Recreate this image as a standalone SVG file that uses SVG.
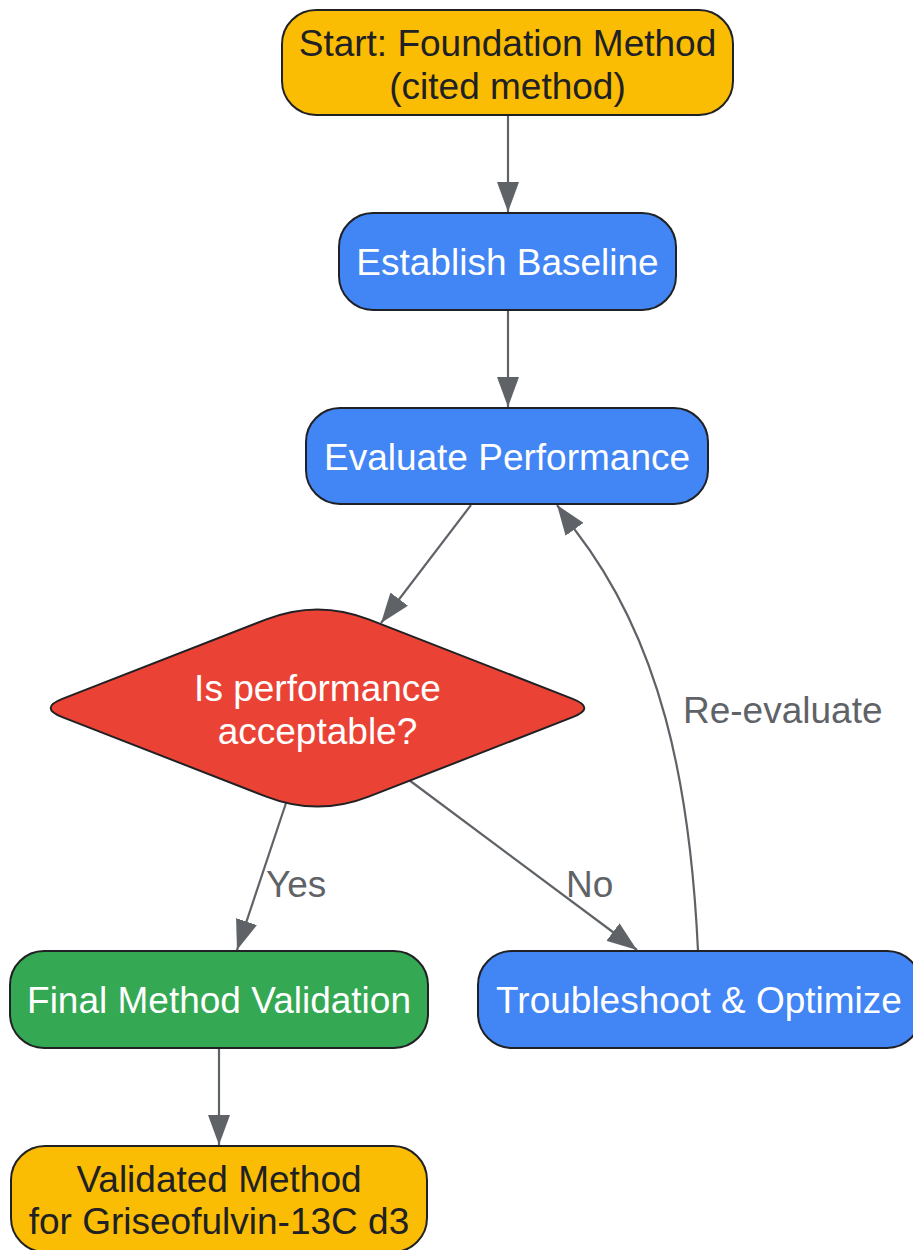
<svg xmlns="http://www.w3.org/2000/svg" width="913" height="1250" viewBox="0 0 913 1250">
<style>
.node{stroke:#202124;stroke-width:2}
.yellow{fill:#FBBC04}
.blue{fill:#4285F4}
.green{fill:#34A853}
.red{fill:#EA4335}
.t{font-family:"Liberation Sans",Arial,sans-serif;font-size:37px;text-anchor:middle}
.dark{fill:#202124}
.light{fill:#ffffff}
.edge{fill:none;stroke:#5f6368;stroke-width:2.2}
.lbl{font-family:"Liberation Sans",Arial,sans-serif;font-size:37px;fill:#5f6368}
</style>
<defs>
<marker id="arrow" viewBox="0 0 30 22" refX="30" refY="11" markerWidth="30" markerHeight="22" markerUnits="userSpaceOnUse" orient="auto">
<path d="M0,0 L30,11 L0,22 Z" fill="#5f6368"/>
</marker>
</defs>
<rect width="913" height="1250" fill="#ffffff"/>
<g id="connectors">
<path class="edge" d="M508,115 L508,212" marker-end="url(#arrow)"/>
<path class="edge" d="M508,310 L508,407" marker-end="url(#arrow)"/>
<path class="edge" d="M471,505 L381,623" marker-end="url(#arrow)"/>
<path class="edge" d="M286,803 L237,950" marker-end="url(#arrow)"/>
<path class="edge" d="M409,780 L637,950" marker-end="url(#arrow)"/>
<path class="edge" d="M698,951 C690,780 660,640 575,530 L557,505" marker-end="url(#arrow)"/>
<path class="edge" d="M219,1048 L219,1145" marker-end="url(#arrow)"/>
<text class="lbl" x="266" y="897">Yes</text>
<text class="lbl" x="566" y="897">No</text>
<text class="lbl" x="683" y="723">Re-evaluate</text>
</g>
<g id="start">
<rect class="node yellow" x="282" y="10" width="451" height="105" rx="34"/>
<text class="t dark" x="507.5" y="56">Start: Foundation Method</text>
<text class="t dark" x="507.5" y="99">(cited method)</text>
</g>
<g id="baseline">
<rect class="node blue" x="339" y="213" width="337" height="97" rx="34"/>
<text class="t light" x="507.5" y="275">Establish Baseline</text>
</g>
<g id="evaluate">
<rect class="node blue" x="306" y="408" width="402" height="96" rx="34"/>
<text class="t light" x="507" y="470">Evaluate Performance</text>
</g>
<g id="decision">
<path class="node red" d="M266.3,619.4 Q317.5,599.4 368.7,619.4 L572.7,698.9 Q596,708 572.7,717.1 L368.7,796.6 Q317.5,816.6 266.3,796.6 L62.3,717.1 Q39,708 62.3,698.9 Z"/>
<text class="t light" x="317.5" y="701">Is performance</text>
<text class="t light" x="317.5" y="744">acceptable?</text>
</g>
<g id="final">
<rect class="node green" x="10" y="951" width="418" height="97" rx="34"/>
<text class="t light" x="219" y="1013">Final Method Validation</text>
</g>
<g id="troubleshoot">
<rect class="node blue" x="478" y="951" width="443" height="97" rx="34"/>
<text class="t light" x="699" y="1013">Troubleshoot &amp; Optimize</text>
</g>
<g id="validated">
<rect class="node yellow" x="11" y="1146" width="416" height="106" rx="34"/>
<text class="t dark" x="219" y="1192">Validated Method</text>
<text class="t dark" x="219" y="1234">for Griseofulvin-13C d3</text>
</g>
</svg>
